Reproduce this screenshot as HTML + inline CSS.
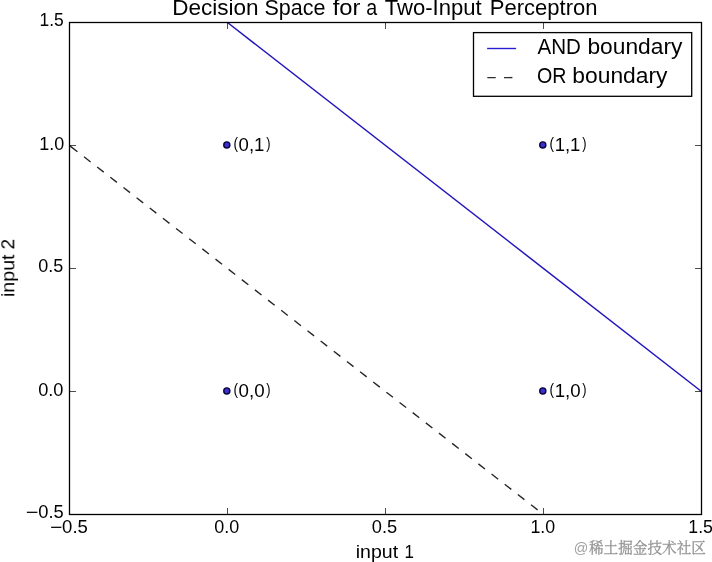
<!DOCTYPE html>
<html lang="en"><head><meta charset="utf-8">
<title>Decision Space for a Two-Input Perceptron</title>
<style>
html,body{margin:0;padding:0;background:#fff;}
body{width:712px;height:562px;overflow:hidden;}
svg{display:block;}
text{font-family:"Liberation Sans",sans-serif;fill:#000;}
</style></head><body>
<svg width="712" height="562" viewBox="0 0 712 562">
<rect x="0" y="0" width="712" height="562" fill="#ffffff"/>
<g fill="none" stroke-linecap="butt">
<line x1="227.50" y1="22.50" x2="701.50" y2="391.50" stroke="#2214bc" stroke-width="1.50"/>
<line x1="69.50" y1="145.50" x2="71.04" y2="146.70" stroke="#262626" stroke-width="1.39"/>
<line x1="70.88" y1="146.58" x2="543.50" y2="514.50" stroke="#262626" stroke-width="1.39" stroke-dasharray="8.33 8.33"/>
</g>
<g fill="#3a2fd0" stroke="#0a0538" stroke-width="1.39">
<circle cx="226.80" cy="390.90" r="3.05"/>
<circle cx="226.80" cy="144.90" r="3.05"/>
<circle cx="542.80" cy="390.90" r="3.05"/>
<circle cx="542.80" cy="144.90" r="3.05"/>
</g>
<g stroke="#000000" stroke-width="0.70" fill="none">
<line x1="69.50" y1="514.50" x2="69.50" y2="508.00"/>
<line x1="69.50" y1="22.50" x2="69.50" y2="29.00"/>
<line x1="69.50" y1="514.50" x2="76.00" y2="514.50"/>
<line x1="701.50" y1="514.50" x2="695.00" y2="514.50"/>
<line x1="227.50" y1="514.50" x2="227.50" y2="508.00"/>
<line x1="227.50" y1="22.50" x2="227.50" y2="29.00"/>
<line x1="69.50" y1="391.50" x2="76.00" y2="391.50"/>
<line x1="701.50" y1="391.50" x2="695.00" y2="391.50"/>
<line x1="385.50" y1="514.50" x2="385.50" y2="508.00"/>
<line x1="385.50" y1="22.50" x2="385.50" y2="29.00"/>
<line x1="69.50" y1="268.50" x2="76.00" y2="268.50"/>
<line x1="701.50" y1="268.50" x2="695.00" y2="268.50"/>
<line x1="543.50" y1="514.50" x2="543.50" y2="508.00"/>
<line x1="543.50" y1="22.50" x2="543.50" y2="29.00"/>
<line x1="69.50" y1="145.50" x2="76.00" y2="145.50"/>
<line x1="701.50" y1="145.50" x2="695.00" y2="145.50"/>
<line x1="701.50" y1="514.50" x2="701.50" y2="508.00"/>
<line x1="701.50" y1="22.50" x2="701.50" y2="29.00"/>
<line x1="69.50" y1="22.50" x2="76.00" y2="22.50"/>
<line x1="701.50" y1="22.50" x2="695.00" y2="22.50"/>
</g>
<rect x="69.50" y="22.50" width="632.00" height="492.00" fill="none" stroke="#000000" stroke-width="1.30"/>
<rect x="473.5" y="32.6" width="218.2" height="63.7" fill="#ffffff" stroke="#000000" stroke-width="1.30"/>
<line x1="487.1" y1="48.5" x2="516.1" y2="48.5" stroke="#2a1cd0" stroke-width="1.39"/>
<line x1="487.3" y1="77.6" x2="516.1" y2="77.6" stroke="#2e2e2e" stroke-width="1.39" stroke-dasharray="8.4 8.3"/>
<g id="labels" opacity="0.999">
<text y="15.00" font-size="21.20"><tspan x="172.15" textLength="86.52" lengthAdjust="spacingAndGlyphs">Decision</tspan> <tspan x="264.52" textLength="61.03" lengthAdjust="spacingAndGlyphs">Space</tspan> <tspan x="332.66" textLength="27.73" lengthAdjust="spacingAndGlyphs">for</tspan> <tspan x="366.36" textLength="10.94" lengthAdjust="spacingAndGlyphs">a</tspan> <tspan x="384.71" textLength="96.95" lengthAdjust="spacingAndGlyphs">Two-Input</tspan> <tspan x="489.79" textLength="107.74" lengthAdjust="spacingAndGlyphs">Perceptron</tspan></text>
<text x="39.47" y="26.00" font-size="17.70" textLength="24.26" lengthAdjust="spacingAndGlyphs">1.5</text>
<text x="39.23" y="150.00" font-size="17.70" textLength="24.97" lengthAdjust="spacingAndGlyphs">1.0</text>
<text x="38.20" y="271.80" font-size="17.70" textLength="25.06" lengthAdjust="spacingAndGlyphs">0.5</text>
<text x="38.19" y="396.00" font-size="17.70" textLength="25.32" lengthAdjust="spacingAndGlyphs">0.0</text>
<text y="518.00" font-size="17.70"><tspan x="25.73" textLength="12.62" lengthAdjust="spacingAndGlyphs">−</tspan><tspan x="38.28" textLength="25.49" lengthAdjust="spacingAndGlyphs">0.5</tspan></text>
<text y="532.70" font-size="17.70"><tspan x="49.95" textLength="12.38" lengthAdjust="spacingAndGlyphs">−</tspan><tspan x="62.07" textLength="25.80" lengthAdjust="spacingAndGlyphs">0.5</tspan></text>
<text x="214.20" y="532.70" font-size="17.70" textLength="25.01" lengthAdjust="spacingAndGlyphs">0.0</text>
<text x="371.89" y="532.70" font-size="17.70" textLength="25.38" lengthAdjust="spacingAndGlyphs">0.5</text>
<text x="530.44" y="532.70" font-size="17.70" textLength="24.75" lengthAdjust="spacingAndGlyphs">1.0</text>
<text x="688.35" y="532.70" font-size="17.70" textLength="24.59" lengthAdjust="spacingAndGlyphs">1.5</text>
<text y="557.60" font-size="17.70"><tspan x="355.79" textLength="42.35" lengthAdjust="spacingAndGlyphs">input</tspan> <tspan x="404.41" textLength="9.42" lengthAdjust="spacingAndGlyphs">1</tspan></text>
<text y="54.00" font-size="21.20"><tspan x="537.46" textLength="43.42" lengthAdjust="spacingAndGlyphs">AND</tspan> <tspan x="587.43" textLength="95.01" lengthAdjust="spacingAndGlyphs">boundary</tspan></text>
<text y="83.40" font-size="21.20"><tspan x="536.97" textLength="29.44" lengthAdjust="spacingAndGlyphs">OR</tspan> <tspan x="572.33" textLength="95.22" lengthAdjust="spacingAndGlyphs">boundary</tspan></text>
<text y="150.80" font-size="17.70"><tspan x="233.56" y="149.20" font-size="16.70" textLength="4.52" lengthAdjust="spacingAndGlyphs">(</tspan><tspan x="238.57" y="150.80" font-size="17.70" textLength="25.83" lengthAdjust="spacingAndGlyphs">0,1</tspan><tspan x="266.32" y="149.20" font-size="16.70" textLength="4.27" lengthAdjust="spacingAndGlyphs">)</tspan></text>
<text y="150.80" font-size="17.70"><tspan x="549.56" y="149.20" font-size="16.70" textLength="4.52" lengthAdjust="spacingAndGlyphs">(</tspan><tspan x="554.69" y="150.80" font-size="17.70" textLength="25.71" lengthAdjust="spacingAndGlyphs">1,1</tspan><tspan x="582.32" y="149.20" font-size="16.70" textLength="4.27" lengthAdjust="spacingAndGlyphs">)</tspan></text>
<text y="396.80" font-size="17.70"><tspan x="233.56" y="395.20" font-size="16.70" textLength="4.52" lengthAdjust="spacingAndGlyphs">(</tspan><tspan x="238.57" y="396.80" font-size="17.70" textLength="26.06" lengthAdjust="spacingAndGlyphs">0,0</tspan><tspan x="266.32" y="395.20" font-size="16.70" textLength="4.27" lengthAdjust="spacingAndGlyphs">)</tspan></text>
<text y="396.80" font-size="17.70"><tspan x="549.56" y="395.20" font-size="16.70" textLength="4.52" lengthAdjust="spacingAndGlyphs">(</tspan><tspan x="554.68" y="396.80" font-size="17.70" textLength="25.95" lengthAdjust="spacingAndGlyphs">1,0</tspan><tspan x="582.32" y="395.20" font-size="16.70" textLength="4.27" lengthAdjust="spacingAndGlyphs">)</tspan></text>
<text transform="translate(14.30 0) rotate(-90)" y="0" font-size="17.70"><tspan x="-297.01" textLength="42.56" lengthAdjust="spacingAndGlyphs">input</tspan> <tspan x="-249.46" textLength="10.62" lengthAdjust="spacingAndGlyphs">2</tspan></text>
</g>
<g id="watermark" fill="#808080" stroke="#808080" stroke-width="0.28" opacity="0.85" aria-label="@稀土掘金技术社区">
<text x="573.77" y="552.60" font-size="14.60" textLength="14.57" lengthAdjust="spacingAndGlyphs" style="fill:#909090;stroke:none">@</text>
<text x="588.90" y="552.90" font-size="14.70" textLength="117.10" lengthAdjust="spacingAndGlyphs" style="font-family:'Liberation Serif','Noto Serif CJK SC',serif;fill:#808080">稀土掘金技术社区</text>
</g>
</svg>
</body></html>
